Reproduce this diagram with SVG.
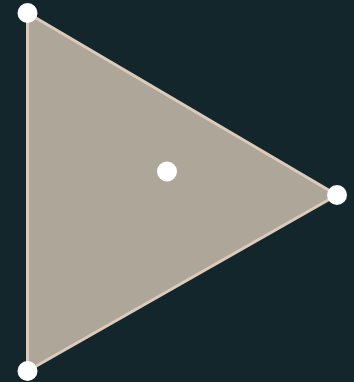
<svg xmlns="http://www.w3.org/2000/svg" width="354" height="382" viewBox="0 0 354 382">
<style>
.dot{fill:#ffffff}
.tri{fill:#aea699;stroke:#dccbbb;stroke-width:3;stroke-linejoin:round}
</style>
<rect width="354" height="382" fill="#13262b"/>
<g id="connectors">
<polygon class="tri" points="27.5,13 337,195 27.5,371"/>
</g>
<g id="v1"><circle class="dot" cx="27.5" cy="13" r="10"/></g>
<g id="v2"><circle class="dot" cx="337" cy="195" r="10"/></g>
<g id="v3"><circle class="dot" cx="27.5" cy="371" r="10"/></g>
<g id="center"><circle class="dot" cx="167" cy="171.5" r="10"/></g>
</svg>
